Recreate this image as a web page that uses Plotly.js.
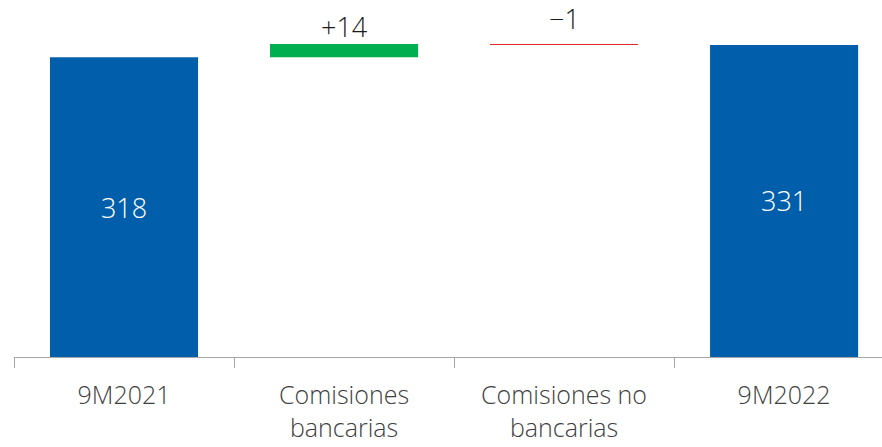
<!DOCTYPE html>
<html>
<head>
<meta charset="utf-8">
<script src="https://cdn.plot.ly/plotly-3.0.1.min.js"></script>
<style>html,body{margin:0;padding:0;background:#fff;}#chart{width:882px;height:447px;}</style>
</head>
<body>
<div id="chart"></div>
<script>
const categories = ["9M2021", "Comisiones<br>bancarias", "Comisiones no<br>bancarias", "9M2022"];
const measures = ["absolute", "relative", "relative", "total"];
const values = [318, 14, -1, 331];
const barLabels = ["318", "", "", "331"];
const deltaLabels = ["", "+14", "\u22121", ""];

const FONT = "Open Sans, Lato, DejaVu Sans, sans-serif";

const trace = {
  type: "waterfall",
  x: categories,
  y: values,
  measure: measures,
  text: barLabels,
  textposition: "inside",
  insidetextanchor: "middle",
  textfont: {family: FONT, size: 27, color: "#ffffff", weight: 300},
  width: 0.673,
  connector: {visible: false},
  increasing: {marker: {color: "#00B050"}},
  decreasing: {marker: {color: "#E8282B"}},
  totals: {marker: {color: "#005EAA"}},
  hoverinfo: "skip"
};

// running levels for annotations
const annotations = [];
let level = 0;
values.forEach((v, i) => {
  if (measures[i] === "absolute") level = v;
  else if (measures[i] === "relative") {
    const top = Math.max(level, level + v);
    level += v;
    annotations.push({
      x: categories[i], y: top, xref: "x", yref: "y",
      text: deltaLabels[i], showarrow: false,
      yanchor: "bottom", yshift: v >= 0 ? -3 : 5,
      font: {family: FONT, size: 27, color: "#1a1a1a", weight: 300}
    });
  }
});

const layout = {
  width: 882, height: 447,
  margin: {l: 14, r: 0, t: 0, b: 90, pad: 0},
  paper_bgcolor: "#ffffff", plot_bgcolor: "#ffffff",
  showlegend: false,
  xaxis: {
    type: "category",
    range: [-0.5, 3.445],
    showline: true, linecolor: "#a6a6a6", linewidth: 1,
    ticks: "outside", ticklen: 10, tickcolor: "#a6a6a6", tickwidth: 1,
    tickson: "boundaries",
    ticklabelstandoff: 16,
    showgrid: false, zeroline: false,
    tickfont: {family: FONT, size: 25, color: "#404040", weight: 300}
  },
  yaxis: {
    range: [0, 378.6],
    visible: false, showgrid: false, zeroline: false
  },
  annotations: annotations
};

Plotly.newPlot("chart", [trace], layout, {staticPlot: true, displayModeBar: false});
</script>
</body>
</html>
